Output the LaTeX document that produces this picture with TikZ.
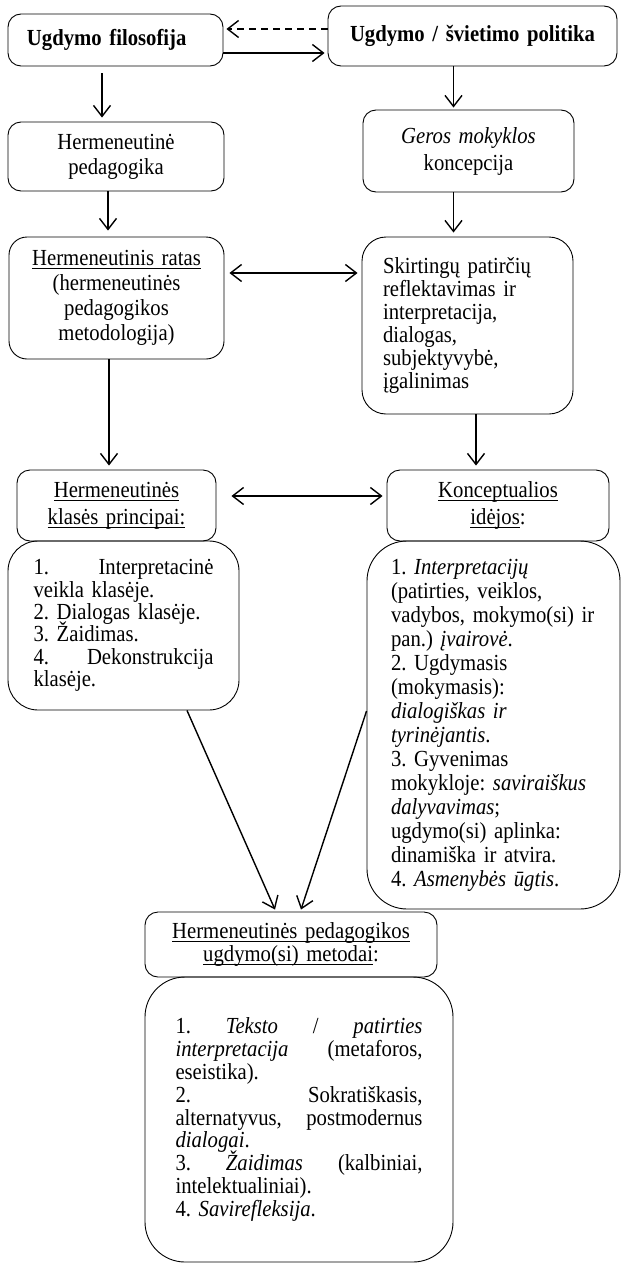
\documentclass[tikz,border=0pt]{standalone}
\usepackage{fontspec}
\setmainfont[FakeStretch=0.9]{Liberation Serif}
\usetikzlibrary{arrows.meta}
\newcommand\myul[1]{\leavevmode\setbox0\hbox{#1}\rlap{\rule[-3.4pt]{\wd0}{0.9pt}}\box0}
\newcommand\jl[2]{\leavevmode\hbox to #1{#2}}
\newcommand\tightlines{\lineskiplimit=-30pt\lineskip=0pt\frenchspacing}
\begin{document}
\frenchspacing
\begin{tikzpicture}[x=1pt,y=1pt,
  box/.style={draw, line width=0.9pt, rounded corners=13pt, inner sep=0pt,
              font=\tightlines\fontsize{23}{23.5}\selectfont},
  arr/.style={line width=1.4pt, -{Straight Barb[length=11pt,width=17pt,line width=1.4pt]}},
  darr/.style={line width=1.4pt, {Straight Barb[length=11pt,width=17pt,line width=1.4pt]}-{Straight Barb[length=11pt,width=17pt,line width=1.4pt]}},
  dasharr/.style={arr, dash pattern=on 7pt off 5pt}]
\fill[white] (0,0) rectangle (621,-1263);
\useasboundingbox (0,0) rectangle (621,-1263);

% row 1
\node[box, minimum width=215pt, minimum height=52pt, text width=177pt, align=left, font=\tightlines\fontsize{23}{23.5}\selectfont\bfseries]
  (b1) at (115.5,-40) {Ugdymo filosofija};
\node[box, minimum width=289pt, minimum height=60pt, text width=260pt, align=center, font=\tightlines\fontsize{23}{23.5}\selectfont\bfseries]
  (b2) at (472.5,-36) {Ugdymo / švietimo politika};

% row 2
\node[box, minimum width=216pt, minimum height=69pt, text width=190pt, align=center, font=\tightlines\fontsize{23}{25}\selectfont]
  (b3) at (116,-156.5) {Hermeneutinė\\pedagogika};
\node[box, minimum width=211pt, minimum height=82pt, text width=190pt, align=center, font=\tightlines\fontsize{23}{27}\selectfont]
  (b4) at (468.5,-151) {\textit{Geros mokyklos}\\koncepcija};

% row 3
\node[box, rounded corners=18pt, minimum width=215pt, minimum height=122pt, text width=195pt, align=center, font=\tightlines\fontsize{23}{25}\selectfont]
  (b5) at (116.5,-298) {\myul{Hermeneutinis ratas}\\(hermeneutinės\\pedagogikos\\metodologija)};
\node[box, rounded corners=24pt, minimum width=211pt, minimum height=177pt, text width=169pt, align=left, font=\tightlines\fontsize{23}{23}\selectfont]
  (b6) at (467.5,-325.5) {Skirtingų patirčių\\reflektavimas ir\\interpretacija,\\dialogas,\\subjektyvybė,\\įgalinimas};

% row 4 headers
\node[box, minimum width=199pt, minimum height=71pt, text width=190pt, align=center, font=\tightlines\fontsize{23}{27}\selectfont]
  (b7) at (116.5,-505.5) {\myul{Hermeneutinės}\\\myul{klasės principai:}};
\node[box, minimum width=222pt, minimum height=71pt, text width=210pt, align=center, font=\tightlines\fontsize{23}{27}\selectfont]
  (b8) at (498,-505.5) {\myul{Konceptualios}\\\myul{idėjos}:};

% row 4 lists
\node[box, rounded corners=30pt, minimum width=231pt, minimum height=169pt, text width=180pt, align=left, font=\tightlines\fontsize{23}{22.4}\selectfont]
  (b9) at (123.5,-625.5) {\jl{180pt}{1.\hfill Interpretacinė}\\veikla klasėje.\\2. Dialogas klasėje.\\3. Žaidimas.\\\jl{180pt}{4.\hfill Dekonstrukcija}\\klasėje.};
\node[box, rounded corners=40pt, minimum width=253pt, minimum height=368pt, text width=205pt, align=left, font=\tightlines\fontsize{23}{24}\selectfont]
  (b10) at (493.5,-725) {1. \textit{Interpretacijų}\\(patirties, veiklos,\\vadybos, mokymo(si) ir\\pan.) \textit{įvairovė}.\\2. Ugdymasis\\(mokymasis):\\\textit{dialogiškas ir}\\\textit{tyrinėjantis}.\\3. Gyvenimas\\mokykloje: \textit{saviraiškus}\\\textit{dalyvavimas};\\ugdymo(si) aplinka:\\dinamiška ir atvira.\\4. \textit{Asmenybės ūgtis}.};

% row 5
\node[box, minimum width=292pt, minimum height=65pt, text width=280pt, align=center, font=\tightlines\fontsize{23}{23.5}\selectfont]
  (b11) at (291,-944.5) {\myul{Hermeneutinės pedagogikos}\\\myul{ugdymo(si) metodai}:};
\node[box, rounded corners=40pt, minimum width=308pt, minimum height=285pt, text width=247pt, align=left, font=\tightlines\fontsize{23}{22.9}\selectfont]
  (b12) at (299,-1119.5) {\jl{247pt}{1.\hfill\textit{Teksto}\hfill/\hfill\textit{patirties}}\\\jl{247pt}{\textit{interpretacija}\hfill(metaforos,}\\eseistika).\\\jl{247pt}{2.\hfill Sokratiškasis,}\\\jl{247pt}{alternatyvus,\hfill postmodernus}\\\textit{dialogai}.\\\jl{247pt}{3.\hfill\textit{Žaidimas}\hfill(kalbiniai,}\\intelektualiniai).\\4. \textit{Savirefleksija}.};

% connectors
\draw[dasharr] ([yshift=7pt]b2.west) -- ([xshift=3pt,yshift=11pt]b1.east);
\draw[arr] ([yshift=-13pt]b1.east) -- ([xshift=-3pt,yshift=-17pt]b2.west);
\draw[arr] ([xshift=-13.5pt,yshift=-7pt]b1.south) -- ([xshift=-14pt,yshift=4pt]b3.north);
\draw[arr] ([xshift=-19pt]b2.south) -- ([xshift=-15pt,yshift=2pt]b4.north);
\draw[arr] ([xshift=-8pt]b3.south) -- ([xshift=-8.5pt,yshift=6pt]b5.north);
\draw[arr] ([xshift=-15pt]b4.south) -- ([xshift=-14pt,yshift=4pt]b6.north);
\draw[darr] ([xshift=5pt,yshift=25pt]b5.east) -- ([xshift=-4pt,yshift=52.5pt]b6.west);
\draw[arr] ([xshift=-7.5pt]b5.south) -- ([xshift=-7.5pt,yshift=4pt]b7.north);
\draw[arr] ([xshift=8.5pt]b6.south) -- ([xshift=-22pt,yshift=4pt]b8.north);
\draw[darr] ([xshift=15pt,yshift=9.5pt]b7.east) -- ([xshift=-4pt,yshift=9.5pt]b8.west);
\draw[arr] ([xshift=63.5pt]b9.south) -- ([xshift=-16pt,yshift=2pt]b11.north);
\draw[arr] ([yshift=14pt]b10.west) -- ([xshift=10pt,yshift=2pt]b11.north);
\end{tikzpicture}
\end{document}
